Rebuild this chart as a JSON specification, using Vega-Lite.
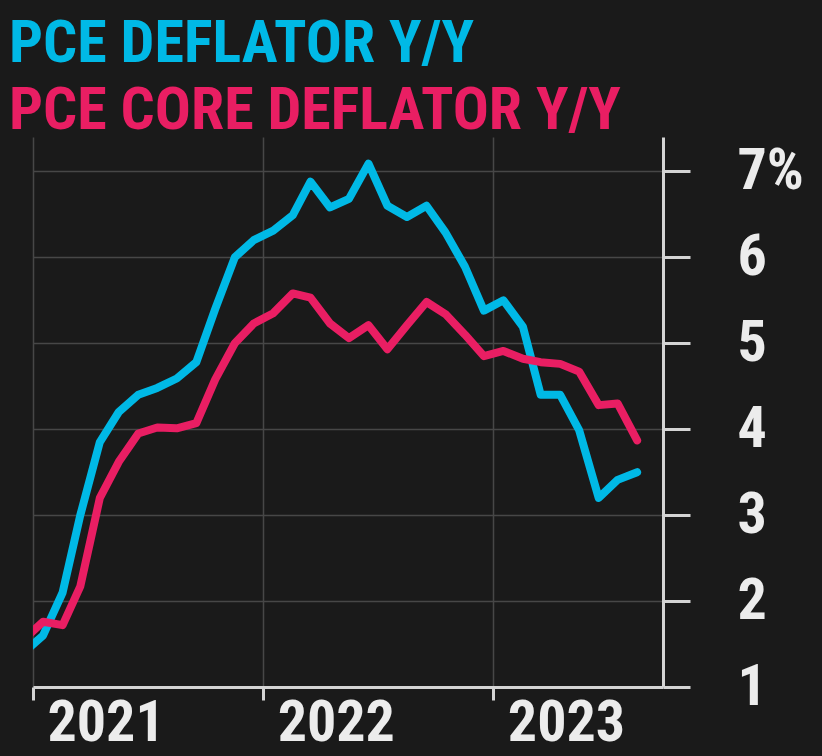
{
  "$schema": "https://vega.github.io/schema/vega-lite/v6.json",
  "width": 630,
  "height": 550,
  "autosize": "none",
  "padding": {"left": 33, "top": 137, "right": 159, "bottom": 69},
  "background": "#1a1a1a",
  "title": {
    "text": "PCE DEFLATOR Y/Y",
    "subtitle": "PCE CORE DEFLATOR Y/Y",
    "anchor": "start",
    "frame": "group",
    "dx": -24,
    "offset": -5,
    "font": "Roboto Condensed, Liberation Sans Narrow, Roboto, sans-serif",
    "fontSize": 60,
    "fontWeight": "bold",
    "color": "#00b9e6",
    "subtitleFont": "Roboto Condensed, Liberation Sans Narrow, Roboto, sans-serif",
    "subtitleFontSize": 60,
    "subtitleFontWeight": "bold",
    "subtitleColor": "#e91e63",
    "subtitlePadding": 7
  },
  "config": {
    "view": {"stroke": null},
    "axis": {
      "labelFont": "Roboto Condensed, Liberation Sans Narrow, Roboto, sans-serif",
      "labelFontWeight": "bold",
      "labelFontSize": 58,
      "labelColor": "#ececec",
      "domainColor": "#d4d4d4",
      "domainWidth": 3,
      "tickColor": "#d4d4d4",
      "tickWidth": 3,
      "gridColor": "#474747",
      "gridWidth": 1.5,
      "title": null
    }
  },
  "data": {
    "values": [
      {"date": "2020-12-17", "headline": 1.4, "core": 1.55},
      {"date": "2021-01-17", "headline": 1.6, "core": 1.76},
      {"date": "2021-02-17", "headline": 2.1, "core": 1.72},
      {"date": "2021-03-17", "headline": 3.0, "core": 2.17},
      {"date": "2021-04-17", "headline": 3.85, "core": 3.2},
      {"date": "2021-05-17", "headline": 4.2, "core": 3.62},
      {"date": "2021-06-17", "headline": 4.4, "core": 3.95},
      {"date": "2021-07-17", "headline": 4.48, "core": 4.02},
      {"date": "2021-08-17", "headline": 4.59, "core": 4.01},
      {"date": "2021-09-17", "headline": 4.78, "core": 4.07},
      {"date": "2021-10-17", "headline": 5.4, "core": 4.58},
      {"date": "2021-11-17", "headline": 6.0, "core": 5.0},
      {"date": "2021-12-17", "headline": 6.2, "core": 5.23},
      {"date": "2022-01-17", "headline": 6.31, "core": 5.35},
      {"date": "2022-02-17", "headline": 6.49, "core": 5.58},
      {"date": "2022-03-17", "headline": 6.88, "core": 5.53},
      {"date": "2022-04-17", "headline": 6.58, "core": 5.23},
      {"date": "2022-05-17", "headline": 6.68, "core": 5.06},
      {"date": "2022-06-17", "headline": 7.09, "core": 5.21},
      {"date": "2022-07-17", "headline": 6.6, "core": 4.93},
      {"date": "2022-08-17", "headline": 6.47, "core": 5.21},
      {"date": "2022-09-17", "headline": 6.6, "core": 5.48},
      {"date": "2022-10-17", "headline": 6.29, "core": 5.34},
      {"date": "2022-11-17", "headline": 5.89, "core": 5.1},
      {"date": "2022-12-17", "headline": 5.38, "core": 4.85},
      {"date": "2023-01-17", "headline": 5.5, "core": 4.91},
      {"date": "2023-02-17", "headline": 5.19, "core": 4.82},
      {"date": "2023-03-17", "headline": 4.4, "core": 4.78},
      {"date": "2023-04-17", "headline": 4.4, "core": 4.76},
      {"date": "2023-05-17", "headline": 3.99, "core": 4.67},
      {"date": "2023-06-17", "headline": 3.2, "core": 4.28},
      {"date": "2023-07-17", "headline": 3.41, "core": 4.3},
      {"date": "2023-08-17", "headline": 3.5, "core": 3.87}
    ]
  },
  "encoding": {
    "x": {
      "field": "date",
      "type": "temporal",
      "scale": {"domain": ["2021-01-01", "2023-09-27"], "nice": false},
      "axis": {
        "values": [
          {"year": 2021, "month": 1, "date": 1},
          {"year": 2022, "month": 1, "date": 1},
          {"year": 2023, "month": 1, "date": 1}
        ],
        "format": "%Y",
        "tickSize": 13,
        "labelAlign": "left",
        "labelOffset": 14,
        "labelPadding": -6,
        "labelBaseline": "top",
        "grid": true
      }
    }
  },
  "layer": [
    {
      "mark": {"type": "line", "color": "#00b9e6", "strokeWidth": 8, "strokeJoin": "round", "strokeCap": "round", "clip": true},
      "encoding": {
        "y": {
          "field": "headline",
          "type": "quantitative",
          "scale": {"domain": [1, 7.4], "nice": false, "zero": false},
          "axis": {
            "orient": "right",
            "values": [1, 2, 3, 4, 5, 6, 7],
            "format": "d",
            "labelExpr": "datum.value == 7 ? '7%' : datum.label",
            "tickSize": 27,
            "labelPadding": 47,
            "labelAlign": "left",
            "grid": true
          }
        }
      }
    },
    {
      "mark": {"type": "line", "color": "#e91e63", "strokeWidth": 8, "strokeJoin": "round", "strokeCap": "round", "clip": true},
      "encoding": {
        "y": {"field": "core", "type": "quantitative"}
      }
    }
  ]
}
